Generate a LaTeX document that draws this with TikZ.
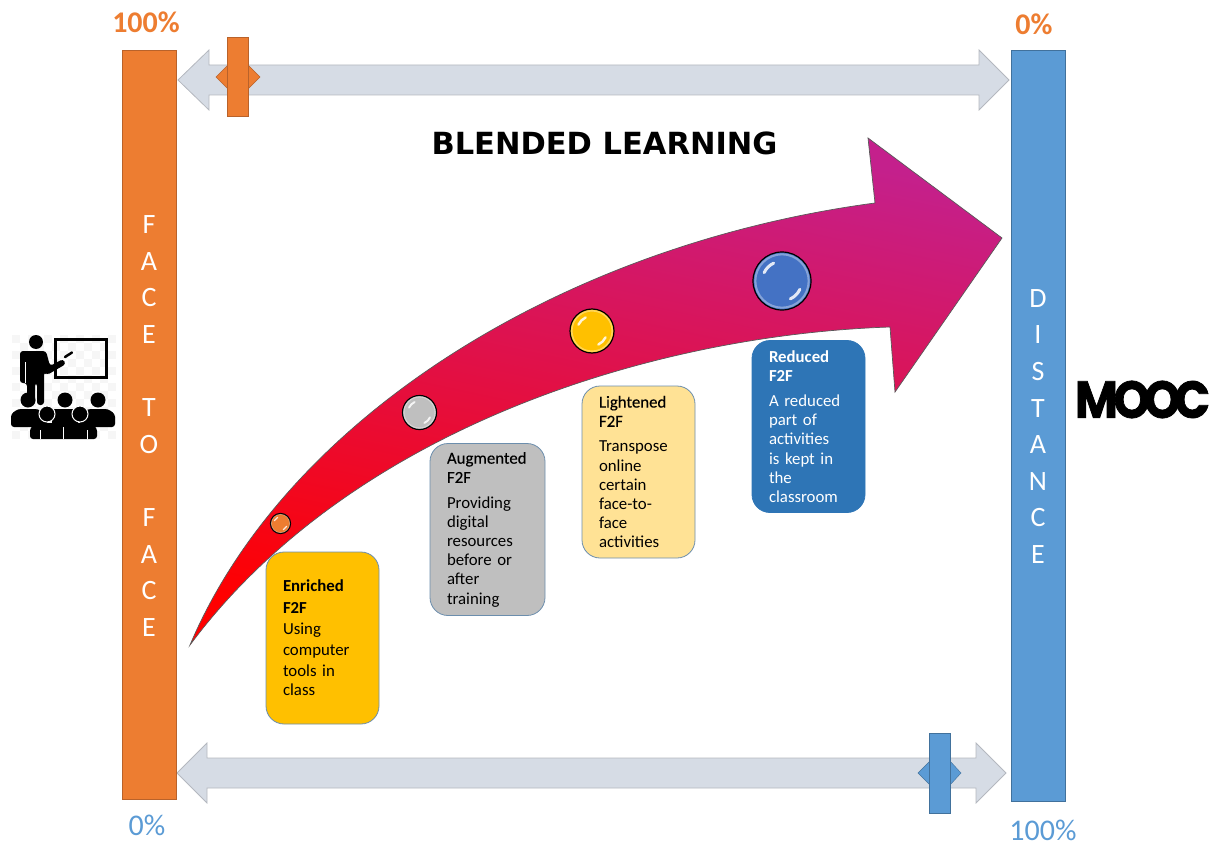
\documentclass[tikz,border=0pt]{standalone}
\usepackage{fontspec}
\setmainfont{Carlito}
\newfontfamily\titlefont{DejaVu Sans}
\newfontfamily\moocfont[BoldFeatures={FakeBold=1.5}]{Poppins}
\newfontfamily\headfont[FakeBold=0.2]{Carlito}
\usetikzlibrary{shapes.geometric}
\definecolor{barorange}{HTML}{ED7D31}
\definecolor{barblue}{HTML}{5B9BD5}
\definecolor{lineorange}{HTML}{B9622A}
\definecolor{lineblue}{HTML}{41719C}
\definecolor{sliderfill}{HTML}{D6DCE5}
\definecolor{sliderline}{HTML}{B4B8BF}
\definecolor{arrowred}{HTML}{FF0000}
\definecolor{arrowmag}{HTML}{C4208C}
\definecolor{boxline}{HTML}{6C8EAD}
\definecolor{checker}{HTML}{F6F6F6}
\definecolor{boxyellow}{HTML}{FFC000}
\definecolor{boxgray}{HTML}{BFBFBF}
\definecolor{boxcream}{HTML}{FFE295}
\definecolor{boxblue}{HTML}{2E75B6}
\definecolor{ballblue}{HTML}{4472C4}

\begin{document}
\begin{tikzpicture}[x=1pt,y=-1pt,
  level/.style={rectangle,rounded corners=18pt,draw=boxline,thick,minimum width=113pt,minimum height=172pt,
                text width=79pt,inner xsep=17pt,inner ysep=0pt,align=left,font=\fontsize{16.8}{19.2}\selectfont},
  ball/.style={circle,draw=black,line width=1.2pt,inner sep=0pt},
  barname/.style={text=white,align=center,font=\fontsize{28}{36.6}\selectfont},
  bigpct/.style={inner sep=0pt,font=\fontsize{30}{30}\selectfont},
  boldpct/.style={inner sep=0pt,text=barorange,font=\fontsize{30}{30}\selectfont\bfseries}]
\useasboundingbox (0,0) rectangle (1212,845);

\draw[fill=sliderfill,draw=sliderline,thick]
      (178,80) -- (209,50) -- (209,65) -- (979,65) -- (979,50) -- (1009,80)
      -- (979,110) -- (979,95) -- (209,95) -- (209,110) -- cycle;
\draw[fill=sliderfill,draw=sliderline,thick]
      (177,773) -- (207,743) -- (207,758) -- (976,758) -- (976,743) -- (1006,773)
      -- (976,803) -- (976,788) -- (207,788) -- (207,803) -- cycle;

\draw[fill=barorange,draw=lineorange] (216,77) -- (228,65) -- (248,65) -- (260,77) -- (248,89) -- (228,89) -- cycle;
\draw[fill=barorange,draw=lineorange] (227.5,37.5) rectangle (248,116);
\draw[fill=barblue,draw=lineblue] (918,773) -- (930,761) -- (950,761) -- (961,773) -- (950,785) -- (930,785) -- cycle;
\draw[fill=barblue,draw=lineblue] (929.5,733.5) rectangle (950,813);

\node[rectangle,fill=barorange,draw=lineorange,minimum width=54pt,minimum height=749pt,inner sep=0pt] (facebar) at (149.5,424.5) {};
\node[rectangle,fill=barblue,draw=lineblue,minimum width=54pt,minimum height=751pt,inner sep=0pt] (distbar) at (1038,425.5) {};
\node[barname] (facetext) at (149,426) {F\\A\\C\\E\\~\\T\\O\\~\\F\\A\\C\\E};
\node[barname] (disttext) at (1038,426.5) {D\\I\\S\\T\\A\\N\\C\\E};

\node[boldpct] (topleft) at (146,22) {100\%};
\node[boldpct] (topright) at (1034,24) {0\%};
\node[bigpct,text=barblue] (botleft) at (147,825) {0\%};
\node[bigpct,text=barblue] (botright) at (1043,830) {100\%};

\node[font=\fontsize{30.5}{32}\titlefont\bfseries] (title) at (604.5,143) {BLENDED LEARNING};

\path[draw=black!65,line width=0.7pt,left color=arrowmag,right color=arrowred,shading angle=-12]
      (190,645) .. controls (285,420) and (560,245) .. (875,203)
      -- (868,138) -- (1002,238) -- (895,392) -- (890,327)
      .. controls (650,335) and (350,430) .. (190,645) -- cycle;

\node[level,fill=boxyellow] (enriched) at (322.5,638)
     {\fontsize{16.8}{21.2}\selectfont\textbf{Enriched\\F2F}\\Using\\computer\\tools in\\class};
\node[level,fill=boxgray,minimum width=115pt,text width=81pt] (augmented) at (487.5,529.5)
     {{\headfont Augmented\\F2F}\\[6pt]Providing\\digital\\resources\\before or\\after\\training};
\node[level,fill=boxcream] (lightened) at (638.5,472)
     {{\headfont Lightened\\F2F}\\[6pt]Transpose\\online\\certain\\face-to-\\face\\activities};
\node[level,fill=boxblue,draw=boxblue,text=white] (reduced) at (808.5,426.5)
     {\textbf{Reduced\\F2F}\\[6pt]A reduced\\part of\\activities\\is kept in\\the\\classroom};

\foreach \bx/\by/\brad/\bcol in {280.5/523.5/10/barorange,419.5/412.5/17/boxgray,592/331/22/boxyellow,782/281/29/ballblue} {
  \node[ball,fill=\bcol,minimum size=2*\brad pt] at (\bx,\by) {};
  \draw[white,opacity=.35,line width=0.07*\brad pt] (\bx,\by) circle (0.92*\brad);
  \draw[white,line width=0.09*\brad pt+0.4pt,line cap=round,opacity=.85]
       (\bx,\by) ++(205:0.68*\brad) arc (205:245:0.68*\brad);
  \draw[white,line width=0.09*\brad pt+0.4pt,line cap=round,opacity=.85]
       (\bx,\by) ++(25:0.68*\brad) arc (25:65:0.68*\brad);
}

\foreach \cx in {0,...,12} \foreach \cy in {0,...,12} {
  \pgfmathparse{int(mod(\cx+\cy,2))}
  \ifnum\pgfmathresult=0
    \fill[checker] (12+\cx*8,335+\cy*8) rectangle ++(8,8);
  \fi
}
\draw[black,line width=3pt] (55.5,339.5) rectangle (106.5,377.5);
\fill (36,342) circle (7);
\fill[rounded corners=3pt] (20,351) -- (46,351) -- (50,366) -- (63,359) -- (66,364) -- (47,375) -- (44,372) -- (44,405) -- (37,405) -- (37,383) -- (35,383) -- (35,405) -- (27,405) -- (27,383) -- (20,383) -- cycle;
\draw[white,line width=.8pt] (25.5,362) -- (25.5,383);
\draw[line width=2.5pt,line cap=round] (65,357) -- (72,352.5);
\foreach \hx in {28,65,98} \fill (\hx,400) circle (7.5);
\fill[rounded corners=3pt] (11,427) -- (11,414) -- (18,409) -- (38,409) -- (47,415) -- (47,427) -- cycle;
\fill[rounded corners=3pt] (52,409) -- (78,409) -- (78,427) -- (52,427) -- cycle;
\fill[rounded corners=3pt] (115,427) -- (115,414) -- (108,409) -- (88,409) -- (80,415) -- (80,427) -- cycle;
\foreach \hx in {47,80} \draw[white,fill=black,line width=1pt] (\hx,414) circle (8);
\fill[rounded corners=3pt] (30,439) -- (30,428) -- (37,423) -- (57,423) -- (63,428) -- (69,423) -- (90,423) -- (97,428) -- (97,439) -- cycle;
\draw[white,line width=.8pt] (40,430) -- (40,439) (63.5,427) -- (63.5,439) (87,430) -- (87,439);

\node[inner sep=0pt,xscale=.9,font=\fontsize{52}{54}\moocfont\bfseries,text=black] (mooc) at (1142.5,399.5) {M\kern-5pt O\kern-7pt O\kern-7pt C};
\end{tikzpicture}
\end{document}
